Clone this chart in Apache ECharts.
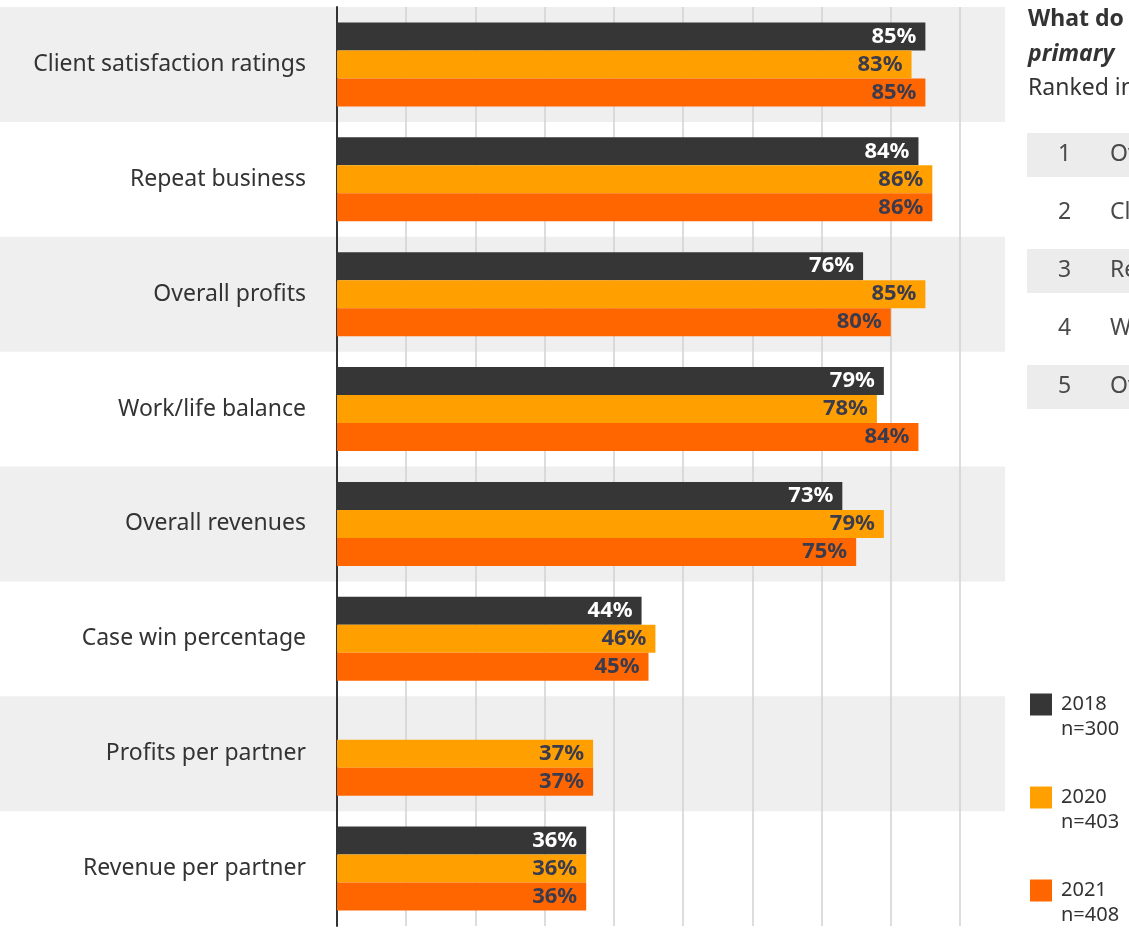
<!DOCTYPE html>
<html>
<head>
<meta charset="utf-8">
<title>Measures of success</title>
<script src="https://cdn.jsdelivr.net/npm/echarts@6/dist/echarts.min.js"></script>
<style>
  html, body { margin: 0; padding: 0; background: #ffffff; }
  #chart { width: 1129px; height: 928px; }
</style>
</head>
<body>
<div id="chart"></div>
<script>
// Survey answers by year (percent of respondents)
const categories = [
  'Client satisfaction ratings',
  'Repeat business',
  'Overall profits',
  'Work/life balance',
  'Overall revenues',
  'Case win percentage',
  'Profits per partner',
  'Revenue per partner'
];
const values2018 = [85, 84, 76, 79, 73, 44, null, 36];
const values2020 = [83, 86, 85, 78, 79, 46, 37, 36];
const values2021 = [85, 86, 80, 84, 75, 45, 37, 36];

const seriesNames = ['2018', '2020', '2021'];
const sampleSizes = ['n=300', 'n=403', 'n=408'];
const seriesColors = ['#363636', '#ffa000', '#ff6600'];
const labelColors = ['#ffffff', '#3b3b4e', '#3b3b4e'];

// Side panel: heading lines and ranked list
const headingLines = ['What do', 'primary', 'Ranked in'];
const rankedItems = ['Overall profits', 'Client satisfaction ratings', 'Repeat business', 'Work/life balance', 'Overall revenues'];

const FONT = '"Noto Sans", "Open Sans", sans-serif';

const chart = echarts.init(document.getElementById('chart'), null, { renderer: 'canvas' });

const seriesData = [values2018, values2020, values2021];

const barSeries = seriesData.map((vals, i) => ({
  name: seriesNames[i],
  type: 'bar',
  xAxisIndex: 1,
  yAxisIndex: 1,
  data: vals,
  barWidth: 28,
  barGap: '0%',
  itemStyle: { color: seriesColors[i] },
  label: {
    show: true,
    position: 'insideRight',
    distance: 9,
    formatter: p => p.value == null ? '' : p.value + '%',
    color: labelColors[i],
    fontFamily: FONT,
    fontWeight: 'bold',
    fontSize: 22
  },
  emphasis: { disabled: true }
}));

// Side panel graphics: heading, ranked rows
const graphics = [];
const headingStyles = [
  { fontWeight: 'bold', fontStyle: 'normal' },
  { fontWeight: 'bold', fontStyle: 'italic' },
  { fontWeight: 'normal', fontStyle: 'normal' }
];
headingLines.forEach((t, i) => {
  graphics.push({
    type: 'text',
    left: 1028,
    top: 8 + i * 34.5,
    style: {
      text: t,
      fill: '#333333',
      font: `${headingStyles[i].fontStyle} ${headingStyles[i].fontWeight} 23px ${FONT}`
    }
  });
});
rankedItems.forEach((t, i) => {
  const cy = 155 + i * 58;
  if (i % 2 === 0) {
    graphics.push({
      type: 'rect',
      left: 1027,
      top: cy - 22,
      shape: { width: 110, height: 44 },
      style: { fill: '#ececec' },
      z: 0
    });
  }
  graphics.push({
    type: 'text',
    left: 1058,
    top: cy - 12,
    style: { text: String(i + 1), fill: '#4a4a4a', font: `23px ${FONT}` },
    z: 1
  });
  graphics.push({
    type: 'text',
    left: 1110,
    top: cy - 12,
    style: { text: t, fill: '#4a4a4a', font: `23px ${FONT}` },
    z: 1
  });
});

const option = {
  backgroundColor: '#ffffff',
  animation: false,
  grid: [
    // row bands running behind labels and bars
    { left: 0, top: 7, width: 1005, bottom: 2 },
    // plot area
    { left: 337, top: 7, width: 623, bottom: 2 }
  ],
  xAxis: [
    { gridIndex: 0, type: 'value', min: 0, max: 1, show: false },
    {
      gridIndex: 1,
      type: 'value',
      min: 0,
      max: 90,
      interval: 10,
      axisLine: { show: false },
      axisTick: { show: false },
      axisLabel: { show: false },
      splitLine: { show: true, lineStyle: { color: '#d2d2d2', width: 1.5 } }
    }
  ],
  yAxis: [
    {
      gridIndex: 0,
      type: 'category',
      inverse: true,
      data: categories,
      axisLine: { show: false },
      axisTick: { show: false },
      axisLabel: { show: false },
      splitLine: { show: false },
      splitArea: { show: true, areaStyle: { color: ['#efefef', 'rgba(255,255,255,0)'] } }
    },
    {
      gridIndex: 1,
      type: 'category',
      inverse: true,
      data: categories,
      axisLine: { show: true, lineStyle: { color: '#333333', width: 2 } },
      axisTick: { show: false },
      axisLabel: {
        color: '#333333',
        fontFamily: FONT,
        fontSize: 23,
        margin: 31
      },
      splitLine: { show: false },
      splitArea: { show: false }
    }
  ],
  legend: {
    orient: 'vertical',
    left: 1030,
    top: 667,
    padding: 0,
    itemWidth: 22,
    itemHeight: 22,
    itemGap: 18,
    icon: 'rect',
    selectedMode: false,
    data: seriesNames,
    formatter: name => '\n' + name + '\n' + sampleSizes[seriesNames.indexOf(name)],
    textStyle: {
      color: '#333333',
      fontFamily: FONT,
      fontSize: 20,
      lineHeight: 25,
      padding: [0, 0, 0, 4]
    }
  },
  graphic: graphics,
  series: barSeries
};

chart.setOption(option);
</script>
</body>
</html>
